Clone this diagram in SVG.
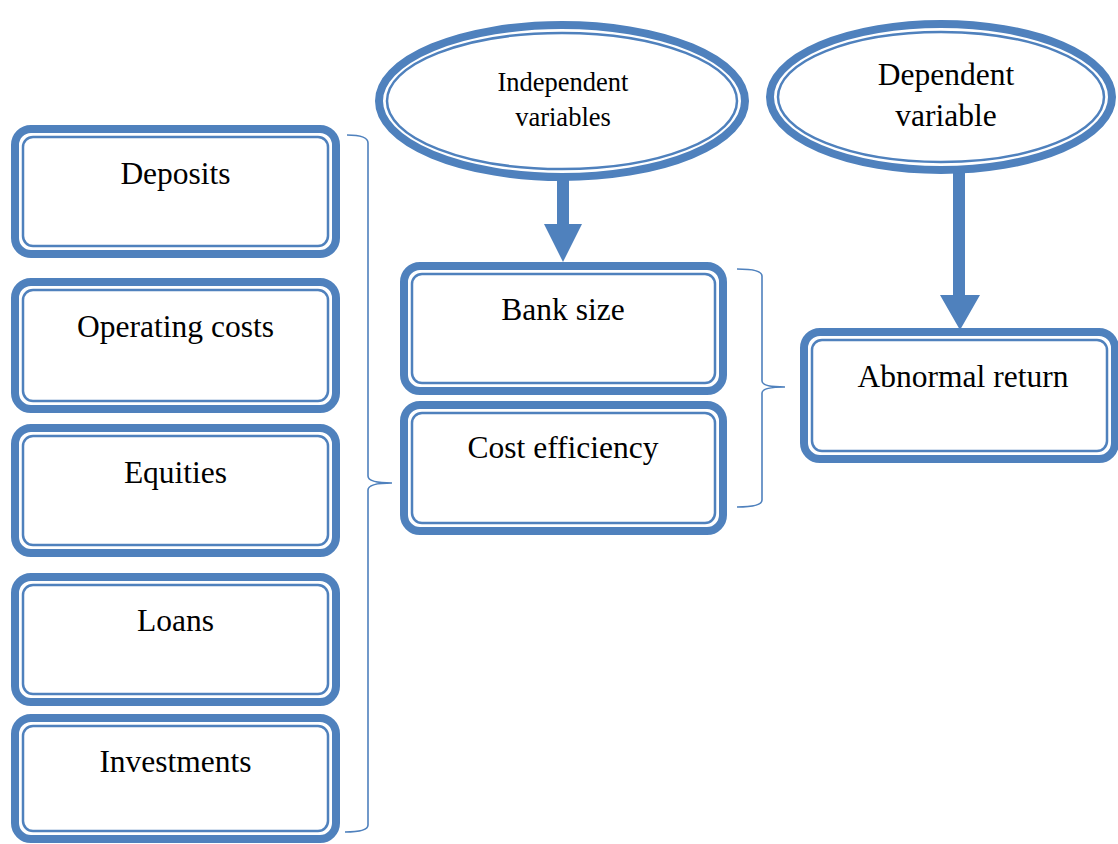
<svg xmlns="http://www.w3.org/2000/svg" width="1118" height="844" viewBox="0 0 1118 844">
<style>
.o{fill:#fff;stroke:#4F81BD;stroke-width:8}
.i{fill:none;stroke:#4F81BD;stroke-width:2.5}
.t{font-family:"Liberation Serif","Times New Roman",serif;font-size:31.5px;fill:#000;text-anchor:middle}
.ts{font-size:26.5px}
.br{fill:none;stroke:#4F81BD;stroke-width:1.6}
.ar{fill:#4F81BD;stroke:none}
</style>
<rect width="1118" height="844" fill="#fff"/>
<g id="connectors">
<polygon class="ar" points="557,170 569,170 569,224 582,224 563,262 544,224 557,224"/>
<polygon class="ar" points="953,165 965,165 965,295 980,295 960,330 940,295 953,295"/>
<path class="br" d="M347,135 Q368,135 368,143 L368,476 Q368,483 392,483 Q368,483 368,490 L368,825 Q368,832 345,832"/>
<path class="br" d="M737,269 Q762,269 762,276 L762,381 Q762,387 785,387 Q762,387 762,393 L762,500 Q762,507 737,507"/>
</g>
<g id="independent">
<ellipse class="o" cx="562" cy="101" rx="183" ry="76"/>
<ellipse class="i" cx="562" cy="101" rx="175" ry="68"/>
<text class="t ts" x="563" y="91">Independent</text>
<text class="t ts" x="563" y="126">variables</text>
</g>
<g id="dependent">
<ellipse class="o" cx="941" cy="97" rx="171" ry="73"/>
<ellipse class="i" cx="941" cy="97" rx="163" ry="65"/>
<text class="t" x="946" y="85">Dependent</text>
<text class="t" x="946" y="126">variable</text>
</g>
<g id="deposits">
<rect class="o" x="15" y="129" width="321" height="125" rx="16"/>
<rect class="i" x="23" y="137" width="305" height="109" rx="10"/>
<text class="t" x="175.5" y="184">Deposits</text>
</g>
<g id="operating-costs">
<rect class="o" x="15" y="282" width="321" height="127" rx="16"/>
<rect class="i" x="23" y="290" width="305" height="111" rx="10"/>
<text class="t" x="175.5" y="337">Operating costs</text>
</g>
<g id="equities">
<rect class="o" x="15" y="428" width="321" height="125" rx="16"/>
<rect class="i" x="23" y="436" width="305" height="109" rx="10"/>
<text class="t" x="175.5" y="483">Equities</text>
</g>
<g id="loans">
<rect class="o" x="15" y="577" width="321" height="125" rx="16"/>
<rect class="i" x="23" y="585" width="305" height="109" rx="10"/>
<text class="t" x="175.5" y="631">Loans</text>
</g>
<g id="investments">
<rect class="o" x="15" y="718" width="321" height="121" rx="16"/>
<rect class="i" x="23" y="726" width="305" height="105" rx="10"/>
<text class="t" x="175.5" y="772">Investments</text>
</g>
<g id="bank-size">
<rect class="o" x="404" y="266" width="319" height="125" rx="16"/>
<rect class="i" x="412" y="274" width="303" height="109" rx="10"/>
<text class="t" x="563" y="320">Bank size</text>
</g>
<g id="cost-efficiency">
<rect class="o" x="404" y="405" width="319" height="126" rx="16"/>
<rect class="i" x="412" y="413" width="303" height="110" rx="10"/>
<text class="t" x="563" y="458">Cost efficiency</text>
</g>
<g id="abnormal-return">
<rect class="o" x="804" y="332" width="311" height="127" rx="16"/>
<rect class="i" x="812" y="340" width="295" height="111" rx="10"/>
<text class="t" x="963" y="387">Abnormal return</text>
</g>
</svg>
